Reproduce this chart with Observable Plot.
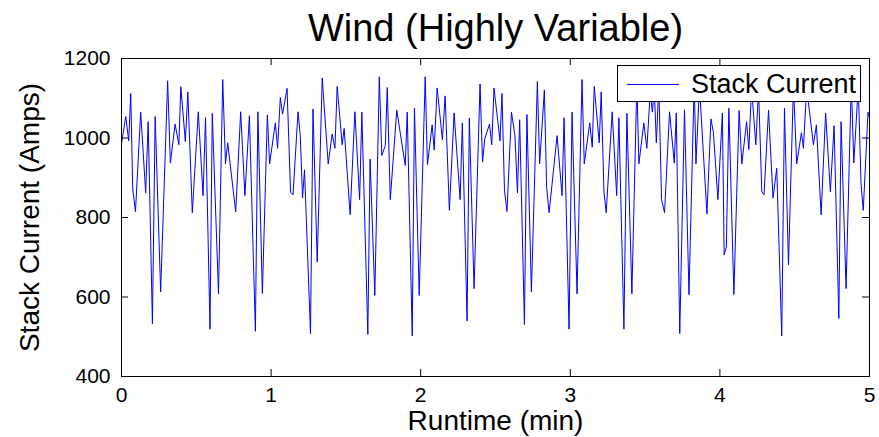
<!DOCTYPE html>
<html>
<head>
<meta charset="utf-8">
<script src="https://cdn.jsdelivr.net/npm/d3@7"></script>
<script src="https://cdn.jsdelivr.net/npm/@observablehq/plot@0.6"></script>
<style>
  html, body { margin: 0; padding: 0; background: white; }
  #wrap { position: relative; width: 879px; height: 437px; font-family: "Liberation Sans", Arial, sans-serif; }
  #legend { position: absolute; left: 617px; top: 65px; width: 244px; height: 37px; border: 1px solid black; background: white; box-sizing: border-box; }
  #legend svg { position: absolute; left: 9px; top: 17px; }
  #legend span { position: absolute; left: 73px; top: 3px; font-size: 27px; line-height: 30px; color: black; white-space: nowrap; }
</style>
</head>
<body>
<div id="wrap"></div>
<script>
// Runtime (seconds) of each vertex of the trace
const timeSec = [0,1.7,2.9,3.7,4.5,5.6,7.7,9.7,10.7,12.4,13.5,15.7,18.5,19.6,21.5,23.0,23.8,25.6,26.6,28.4,30.8,32.7,33.7,35.5,36.4,38.9,40.6,41.7,42.6,45.8,47.8,49.5,51.3,53.7,54.7,56.5,58.5,59.4,61.7,62.6,63.7,64.6,66.4,67.8,68.8,70.8,71.7,72.6,73.4,75.8,76.8,78.5,80.5,82.9,84.5,85.6,86.5,88.5,89.3,91.7,93.6,95.5,96.4,98.8,99.7,101.6,103.4,104.4,105.8,106.6,107.8,110.4,113.8,114.6,116.6,117.5,119.4,121.8,122.7,124.6,125.4,126.6,128.7,129.8,131.5,133.4,135.8,136.7,138.6,139.5,141.4,143.8,144.8,145.7,147.6,148.5,149.4,151.8,152.6,153.6,154.6,156.4,157.8,158.8,159.7,161.6,162.6,164.4,166.8,167.7,169.6,170.5,171.5,174.7,176.7,177.5,179.5,180.7,182.7,184.7,185.6,187.8,188.8,189.6,191.6,192.4,193.5,194.4,196.8,198.6,199.5,201.5,202.7,204.7,206.7,207.5,209.5,210.7,212.1,212.9,213.7,214.5,215.5,216.6,217.8,219.8,221.7,222.5,223.9,225.8,227.6,229.7,230.4,231.8,234.8,236.4,237.4,239.2,241.0,241.7,242.6,243.6,245.6,247.7,248.8,250.7,251.6,252.7,254.4,255.5,256.8,257.7,259.5,261.3,262.8,264.8,265.9,267.5,269.5,270.8,272.7,273.5,274.8,277.5,278.7,280.6,282.4,284.3,285.8,287.7,288.6,290.6,292.7,293.7,295.5,296.6,297.5,299.4,300];
// Stack current (Amps) at each vertex
const stackCurrent = [985,1054,993,1112,872,815,1065,862,1041,533,1054,613,1144,937,1035,983,1129,991,1116,812,1066,855,1051,519,1062,608,1147,935,988,814,1066,855,1056,514,1066,609,1058,935,1038,974,1102,1060,1125,864,857,1066,1006,849,920,508,1073,688,1151,935,1010,974,1130,983,1024,807,1066,845,1065,506,947,604,1154,956,981,1127,845,1070,931,1065,502,1075,604,1154,933,1033,970,1126,996,1106,818,1063,845,1038,540,1050,621,1136,939,998,1035,983,1126,993,1112,868,815,1065,1006,862,1046,531,1059,613,1142,935,1121,876,812,1006,855,1051,519,1065,608,1147,935,1038,977,1130,988,1116,864,812,1066,855,1051,519,1062,608,1140,935,1038,974,1119,1065,1123,988,1132,845,812,1066,937,1063,508,1071,606,1144,935,1131,809,1048,1014,845,1063,706,726,1075,606,1069,935,1041,971,1127,983,1123,865,857,1070,849,924,502,1075,681,1131,935,1013,974,1127,983,1033,807,1063,865,1031,546,1041,621,1140,937,1131,885,818,1065,1050];

const xTicks = [0, 1, 2, 3, 4, 5];
const yTicks = [400, 600, 800, 1000, 1200];
const titleText = "Wind (Highly Variable)";
const xLabel = "Runtime (min)";
const yLabel = "Stack Current (Amps)";
const seriesName = "Stack Current";

const data = timeSec.map((t, i) => ({minutes: t / 60, amps: stackCurrent[i]}));

const W = 879, H = 437, ML = 121, MR = 10, MT = 58, MB = 61;
const PW = W - ML - MR, PH = H - MT - MB, TK = 7;

const chart = Plot.plot({
  width: W, height: H,
  marginLeft: ML, marginRight: MR, marginTop: MT, marginBottom: MB,
  style: {fontFamily: "'Liberation Sans', Arial, sans-serif", fontSize: "21px", background: "white", color: "black", overflow: "visible"},
  x: {domain: [0, 5]},
  y: {domain: [400, 1200]},
  marks: [
    Plot.axisX(xTicks, {tickSize: 0, tickPadding: 11, fontSize: 21, label: null, tickFormat: d => String(d)}),
    Plot.axisY(yTicks, {tickSize: 0, tickPadding: 11, fontSize: 21, label: null, tickFormat: d => String(d)}),
    Plot.line(data, {x: "minutes", y: "amps", stroke: "#0000ff", strokeWidth: 1}),
    Plot.tickX(xTicks, {x: d => d, insetTop: PH - TK, stroke: "black"}),
    Plot.tickX(xTicks, {x: d => d, insetBottom: PH - TK, stroke: "black"}),
    Plot.tickY(yTicks, {y: d => d, insetRight: PW - TK, stroke: "black"}),
    Plot.tickY(yTicks, {y: d => d, insetLeft: PW - TK, stroke: "black"}),
    Plot.frame({stroke: "black", strokeWidth: 1}),
    Plot.text([titleText], {text: d => d, frameAnchor: "top", lineAnchor: "middle", textAnchor: "middle", dy: -30, fontSize: 38, fill: "black"}),
    Plot.text([xLabel], {text: d => d, frameAnchor: "bottom", lineAnchor: "middle", textAnchor: "middle", dy: 45, fontSize: 28, fill: "black"}),
    Plot.text([yLabel], {text: d => d, frameAnchor: "left", lineAnchor: "middle", textAnchor: "middle", dx: -91, rotate: -90, fontSize: 28, fill: "black"})
  ]
});

const wrap = document.getElementById("wrap");
wrap.appendChild(chart);
const legend = document.createElement("div");
legend.id = "legend";
legend.innerHTML = `<svg width="52" height="3"><line x1="0" y1="1.5" x2="52" y2="1.5" stroke="#0000ff" stroke-width="1"/></svg><span>${seriesName}</span>`;
wrap.appendChild(legend);
</script>
</body>
</html>
